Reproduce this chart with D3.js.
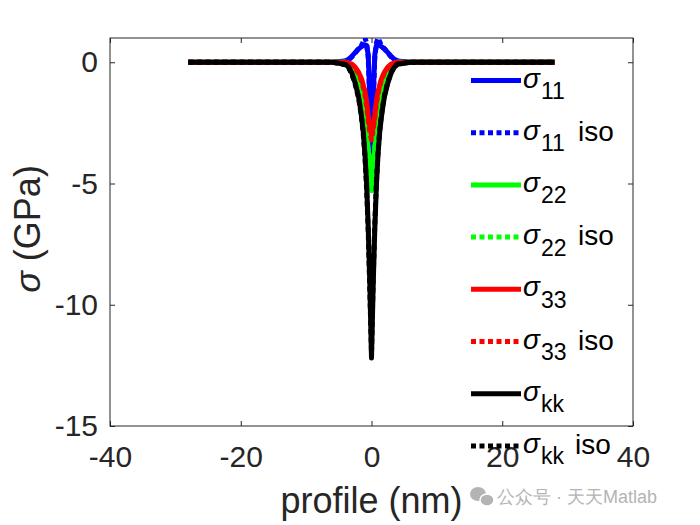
<!DOCTYPE html>
<html>
<head>
<meta charset="utf-8">
<script src="https://cdn.jsdelivr.net/npm/d3@7"></script>
<style>
  body { margin: 0; background: #fff; }
  text { font-family: "Liberation Sans", Arial, sans-serif; }
</style>
</head>
<body>
<script>
const width = 700;
const height = 525;

// profile positions (nm), shared by every series
const xs = [-28, -6, -4, -3.5, -3, -2.5, -2, -1.75, -1.5, -1.25, -1, -0.75, -0.5, -0.25, 0,
            0.25, 0.5, 0.75, 1, 1.25, 1.5, 1.75, 2, 2.5, 3, 3.5, 4, 6, 28];

// stress values (GPa)
const s11 = [0, 0, 0.05, 0.12, 0.25, 0.4, 0.55, 0.6, 0.65, 0.7, 0.72, 0.7, 0.3, -1.5, -4.3,
             -1.5, 0.3, 0.7, 0.72, 0.7, 0.65, 0.6, 0.55, 0.4, 0.25, 0.12, 0.05, 0, 0];
const s11iso = [0, 0, 0.05, 0.1, 0.22, 0.38, 0.55, 0.62, 0.7, 0.85, 1.0, 0.8, 0.2, -1.8, -4.0,
                -1.8, 0.2, 0.8, 1.0, 0.85, 0.7, 0.62, 0.55, 0.38, 0.22, 0.1, 0.05, 0, 0];
const s22 = [0, 0, 0, -0.05, -0.15, -0.35, -0.7, -0.95, -1.3, -1.7, -2.2, -2.8, -3.6, -4.3, -5.3,
             -4.3, -3.6, -2.8, -2.2, -1.7, -1.3, -0.95, -0.7, -0.35, -0.15, -0.05, 0, 0, 0];
const s22iso = [0, 0, 0, -0.06, -0.17, -0.38, -0.75, -1.0, -1.35, -1.75, -2.3, -2.9, -3.7, -4.4, -5.1,
                -4.2, -3.5, -2.7, -2.1, -1.65, -1.25, -0.9, -0.65, -0.32, -0.13, -0.04, 0, 0, 0];
const s33 = [0, 0, 0, -0.03, -0.08, -0.2, -0.4, -0.55, -0.7, -0.95, -1.2, -1.6, -2.2, -2.7, -3.0,
             -2.7, -2.2, -1.6, -1.2, -0.95, -0.7, -0.55, -0.4, -0.2, -0.08, -0.03, 0, 0, 0];
const s33iso = [0, 0, -0.02, -0.05, -0.12, -0.25, -0.45, -0.6, -0.8, -1.05, -1.35, -1.8, -2.4, -2.9, -3.2,
                -2.8, -2.3, -1.7, -1.3, -1.0, -0.75, -0.58, -0.42, -0.22, -0.1, -0.04, -0.02, 0, 0];
const skk = [0, 0, -0.08, -0.2, -0.45, -0.85, -1.4, -1.8, -2.3, -2.9, -3.8, -5.0, -6.8, -9.2, -12.2,
             -9.3, -6.9, -5.1, -3.8, -2.9, -2.3, -1.8, -1.4, -0.85, -0.45, -0.2, -0.08, 0, 0];
const skkiso = [0, 0, -0.1, -0.22, -0.5, -0.9, -1.45, -1.85, -2.35, -3.0, -3.9, -5.2, -7.0, -9.5, -12.0,
                -9.0, -6.7, -4.9, -3.7, -2.8, -2.2, -1.75, -1.35, -0.8, -0.42, -0.18, -0.06, 0, 0];

const xTicks = [-40, -20, 0, 20, 40];
const yTicks = [-15, -10, -5, 0];

const series = [
    { sub: "11", iso: false, color: "#0000ff", values: s11 },
    { sub: "11", iso: true,  color: "#0000ff", values: s11iso },
    { sub: "22", iso: false, color: "#00ff00", values: s22 },
    { sub: "22", iso: true,  color: "#00ff00", values: s22iso },
    { sub: "33", iso: false, color: "#ff0000", values: s33 },
    { sub: "33", iso: true,  color: "#ff0000", values: s33iso },
    { sub: "kk", iso: false, color: "#000000", values: skk },
    { sub: "kk", iso: true,  color: "#000000", values: skkiso }
];

const plotL = 110, plotR = 633, plotT = 38, plotB = 426;

const svg = d3.select("body")
    .append("svg")
    .attr("width", width)
    .attr("height", height);

const x = d3.scaleLinear().domain([-40, 40]).range([plotL, plotR]);
const y = d3.scaleLinear().domain([-15, 1]).range([plotB, plotT]);

svg.append("defs").append("clipPath")
    .attr("id", "plotclip")
    .append("rect")
    .attr("x", plotL).attr("y", plotT)
    .attr("width", plotR - plotL).attr("height", plotB - plotT);

// axes box with ticks pointing inward on all four sides
const axisColor = "#262626";
const plainFmt = d => String(d); // hyphen minus like MATLAB
function styleAxis(g) {
    g.select(".domain").remove();
    g.selectAll(".tick line").attr("stroke", axisColor);
    g.selectAll(".tick text").attr("fill", axisColor).attr("font-size", 30)
        .attr("font-family", "Liberation Sans, Arial, sans-serif");
}

svg.append("g")
    .attr("transform", `translate(0,${plotB})`)
    .call(d3.axisBottom(x).tickValues(xTicks).tickFormat(plainFmt).tickSize(-5).tickPadding(20))
    .call(styleAxis);
svg.append("g")
    .attr("transform", `translate(0,${plotT})`)
    .call(d3.axisTop(x).tickValues(xTicks).tickSize(-5).tickFormat(""))
    .call(styleAxis);
svg.append("g")
    .attr("transform", `translate(${plotL},0)`)
    .call(d3.axisLeft(y).tickValues(yTicks).tickFormat(plainFmt).tickSize(-5).tickPadding(12))
    .call(styleAxis);
svg.append("g")
    .attr("transform", `translate(${plotR},0)`)
    .call(d3.axisRight(y).tickValues(yTicks).tickSize(-5).tickFormat(""))
    .call(styleAxis);

svg.append("rect")
    .attr("x", plotL).attr("y", plotT)
    .attr("width", plotR - plotL).attr("height", plotB - plotT)
    .attr("fill", "none")
    .attr("stroke", axisColor)
    .attr("stroke-width", 1);

// curves
const line = d3.line()
    .x((d, i) => x(xs[i]))
    .y(d => y(d));

svg.append("g")
    .attr("clip-path", "url(#plotclip)")
    .selectAll("path")
    .data(series)
    .enter()
    .append("path")
    .attr("d", d => line(d.values))
    .attr("fill", "none")
    .attr("stroke", d => d.color)
    .attr("stroke-width", 5)
    .attr("stroke-linejoin", "round")
    .attr("stroke-dasharray", d => d.iso ? "5,3.5" : null);

// axis labels
svg.append("text")
    .attr("x", (plotL + plotR) / 2)
    .attr("y", 513)
    .attr("text-anchor", "middle")
    .attr("font-size", 36)
    .attr("fill", axisColor)
    .text("profile (nm)");

const ylab = svg.append("text")
    .attr("transform", "translate(40,229) rotate(-90)")
    .attr("text-anchor", "middle")
    .attr("font-size", 36)
    .attr("fill", axisColor);
ylab.append("tspan").attr("font-style", "italic").text("σ");
ylab.append("tspan").text(" (GPa)");

// legend (no box), one row every ~52 px
const legend = svg.append("g");
const rows = legend.selectAll("g")
    .data(series)
    .enter()
    .append("g")
    .attr("transform", (d, i) => `translate(471,${80.5 + i * 52.2})`);

rows.append("line")
    .attr("x1", 0).attr("x2", 50)
    .attr("stroke", d => d.color)
    .attr("stroke-width", 5)
    .attr("stroke-dasharray", d => d.iso ? "5,3.5" : null);

rows.append("text")
    .attr("x", 52).attr("y", 7)
    .attr("font-size", 28)
    .attr("font-style", "italic")
    .attr("fill", "#000")
    .text("σ");

rows.append("text")
    .attr("x", 70).attr("y", 18.5)
    .attr("font-size", 23)
    .attr("fill", "#000")
    .text(d => d.sub);

rows.filter(d => d.iso)
    .append("text")
    .attr("x", d => d.sub === "kk" ? 104 : 107).attr("y", 8)
    .attr("font-size", 28)
    .attr("fill", "#000")
    .text("iso");

// watermark
const wm = svg.append("g").attr("fill", "#b4b4b4");
wm.append("ellipse").attr("cx", 478).attr("cy", 494).attr("rx", 8).attr("ry", 7);
wm.append("ellipse").attr("cx", 487).attr("cy", 500).attr("rx", 7).attr("ry", 6)
    .attr("stroke", "#fff").attr("stroke-width", 1.5);
wm.append("text")
    .attr("x", 497).attr("y", 503)
    .attr("font-size", 18)
    .attr("font-family", "Noto Sans CJK SC, sans-serif")
    .text("公众号 · 天天Matlab");
</script>
</body>
</html>
